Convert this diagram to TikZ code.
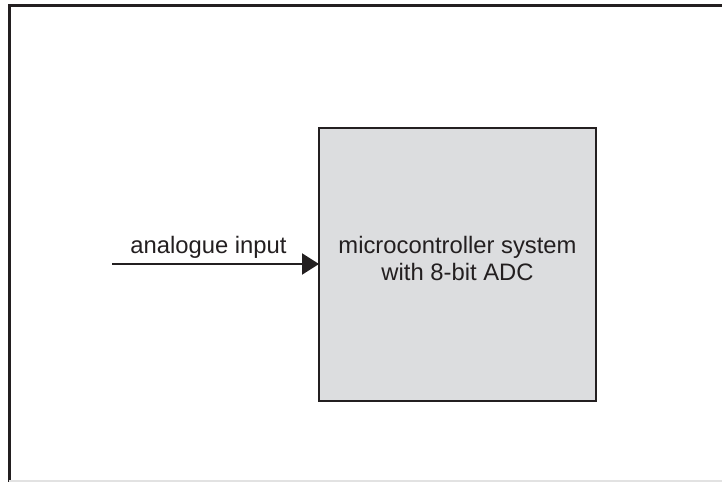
\documentclass[tikz,border=0pt]{standalone}
\usepackage{fontspec}
\setmainfont{Liberation Sans}
\usetikzlibrary{arrows.meta}
\definecolor{boxfill}{HTML}{DCDDDF}
\definecolor{linedark}{HTML}{231F20}
\definecolor{edgegray}{HTML}{E2E2E2}
\begin{document}
\begin{tikzpicture}[x=1pt,y=-1pt,
  frame/.style={draw=linedark,line width=3pt},
  block/.style={draw=linedark,line width=1.6pt,fill=boxfill},
  lbl/.style={font=\fontsize{23.8}{27}\selectfont,text=linedark,align=center,inner sep=0pt},
  signal/.style={draw=linedark,line width=2.2pt,-{Triangle[length=17pt,width=21pt]}}]
  \useasboundingbox (0,0) rectangle (722,482);
  % page frame: top and left edges, faint bottom edge
  \draw[frame] (9,5.5) -- (722,5.5);
  \draw[frame] (9,4) -- (9,482);
  \draw[edgegray,line width=1.5pt] (9,481.2) -- (722,481.2);
  % microcontroller block
  \draw[block] (319,128) rectangle (596,401);
  \coordinate (mcu) at (319,264);
  \node[lbl,anchor=base] (mcutext) at (457.5,280.5) {microcontroller system\\with 8-bit ADC};
  % input signal
  \coordinate (src) at (112,264);
  \draw[signal] (src) -- (mcu);
  \node[lbl,anchor=base] (inlbl) at (208.5,253) {analogue input};
\end{tikzpicture}
\end{document}
